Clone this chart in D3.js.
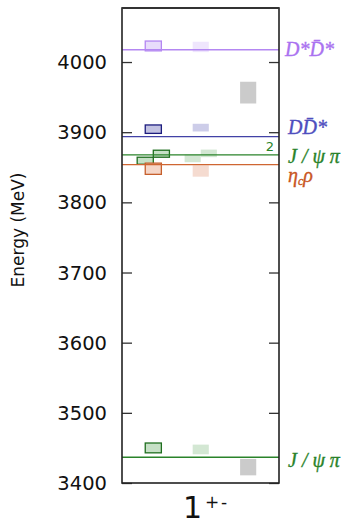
<!DOCTYPE html>
<html>
<head>
<meta charset="utf-8">
<script src="https://cdn.jsdelivr.net/npm/d3@7"></script>
<style>
  html, body { margin: 0; padding: 0; background: #fff; }
  svg { display: block; }
</style>
</head>
<body>
<div id="chart"></div>
<script>
// Thresholds (MeV)
const thresholdNames = ['DsDs', 'DDs', 'JpsiPi2', 'etacRho', 'JpsiPi'];
const thresholdE = [4017.6, 3893.7, 3867.6, 3853.7, 3436.6];

// Levels: x = column (0, 1, 2) with small shift for near-degenerate pairs
const levelX = [0, 0, -0.17, 0.17, 0, 0, 1, 1, 0.83, 1.17, 1, 1, 2, 2];
const levelE = [4022.9, 3904.3, 3859.3, 3869.3, 3847.9, 3450.0,
                4021.5, 3906.5, 3862.6, 3869.8, 3844.7, 3447.8,
                3956.4, 3422.6];
const levelErr = [7.0, 6.0, 5.0, 5.0, 8.0, 7.0,
                  7.4, 5.5, 5.4, 5.4, 8.1, 6.9,
                  15.5, 11.7];
const levelChan = ['DsDs', 'DDs', 'JpsiPi', 'JpsiPi', 'etacRho', 'JpsiPi',
                   'DsDs', 'DDs', 'JpsiPi', 'JpsiPi', 'etacRho', 'JpsiPi',
                   'none', 'none'];

const yTicks = [3400, 3500, 3600, 3700, 3800, 3900, 4000];

// styles
const lineColor = { DsDs: '#b487f2', DDs: '#4242a6', JpsiPi2: '#2a832a', etacRho: '#cf6632', JpsiPi: '#2a832a' };
const col0Fill = { DsDs: '#e8dcfb', DDs: '#c2c2e2', JpsiPi: '#c6e0c6', etacRho: '#f5d6c8', none: '#cbcbcb' };
const col0Stroke = { DsDs: '#b487f2', DDs: '#1c1c7e', JpsiPi: '#1f6e1f', etacRho: '#c65f2c', none: 'none' };
const col1Fill = { DsDs: '#efe6fd', DDs: '#cdcde9', JpsiPi: '#d3e7d3', etacRho: '#f5dbd0', none: '#cbcbcb' };
const labelColor = { DsDs: '#aa72f0', DDs: '#4e4ebe', JpsiPi2: '#2a832a', etacRho: '#c9561f', JpsiPi: '#2a832a' };
const labelDy = [0, -9, 1, 11, 3];

const W = 347, H = 519;
const M = { left: 122, right: 279, top: 8, bottom: 483 };

const svg = d3.select('#chart').append('svg')
  .attr('width', W).attr('height', H);

const x = d3.scaleLinear().domain([-0.66, 2.65]).range([M.left, M.right]);
const y = d3.scaleLinear().domain([3400, 4077]).range([M.bottom, M.top]);

const boxW = 0.34;

// Level boxes
svg.append('g').selectAll('rect')
  .data(levelE.map((e, i) => ({ e, x: levelX[i], err: levelErr[i], ch: levelChan[i] })))
  .join('rect')
  .attr('x', d => x(d.x - boxW / 2))
  .attr('width', d => x(boxW) - x(0))
  .attr('y', d => y(d.e + d.err))
  .attr('height', d => y(d.e - d.err) - y(d.e + d.err))
  .attr('fill', d => Math.round(d.x) === 0 ? col0Fill[d.ch] : col1Fill[d.ch])
  .attr('stroke', d => Math.round(d.x) === 0 ? col0Stroke[d.ch] : 'none')
  .attr('stroke-width', 1.3);

// Threshold lines
svg.append('g').selectAll('line')
  .data(thresholdE.map((e, i) => ({ e, name: thresholdNames[i] })))
  .join('line')
  .attr('x1', M.left).attr('x2', M.right)
  .attr('y1', d => y(d.e)).attr('y2', d => y(d.e))
  .attr('stroke', d => lineColor[d.name])
  .attr('stroke-width', 1.4);

// multiplicity marker
svg.append('text')
  .attr('x', M.right - 5).attr('y', y(thresholdE[2]) - 4)
  .attr('text-anchor', 'end')
  .attr('font-family', 'DejaVu Sans, sans-serif')
  .attr('font-size', 13)
  .attr('fill', lineColor.JpsiPi2)
  .text('2');

// Axes (ticks inward, both sides)
const yAxisL = d3.axisRight(y).tickValues(yTicks).tickSize(10).tickFormat('');
const yAxisR = d3.axisLeft(y).tickValues(yTicks).tickSize(10).tickFormat('');
svg.append('g').attr('transform', `translate(${M.left},0)`).call(yAxisL)
  .call(g => g.select('.domain').remove())
  .call(g => g.selectAll('line').attr('stroke', '#333').attr('stroke-width', 1.3));
svg.append('g').attr('transform', `translate(${M.right},0)`).call(yAxisR)
  .call(g => g.select('.domain').remove())
  .call(g => g.selectAll('line').attr('stroke', '#333').attr('stroke-width', 1.3));

// tick labels
svg.append('g').selectAll('text')
  .data(yTicks)
  .join('text')
  .attr('x', M.left - 15)
  .attr('y', d => y(d))
  .attr('dy', '0.36em')
  .attr('text-anchor', 'end')
  .attr('font-family', 'DejaVu Sans, sans-serif')
  .attr('font-size', 19.5)
  .attr('fill', '#111')
  .text(d => d);

// frame
svg.append('rect')
  .attr('x', M.left).attr('y', M.top)
  .attr('width', M.right - M.left).attr('height', M.bottom - M.top)
  .attr('fill', 'none').attr('stroke', '#222').attr('stroke-width', 1.6);
svg.append('line')
  .attr('x1', M.left).attr('x2', M.right).attr('y1', M.top).attr('y2', M.top)
  .attr('stroke', '#333').attr('stroke-width', 2.2);

// y label
svg.append('text')
  .attr('transform', `translate(18,230) rotate(-90)`)
  .attr('dy', '0.35em')
  .attr('text-anchor', 'middle')
  .attr('font-family', 'DejaVu Sans, sans-serif')
  .attr('font-size', 17)
  .attr('fill', '#111')
  .text('Energy (MeV)');

// x label 1^{+-}
const xlab = svg.append('g')
  .attr('font-family', 'DejaVu Sans, sans-serif')
  .attr('fill', '#111');
xlab.append('text').attr('x', 183).attr('y', 518).attr('font-size', 30).text('1');
xlab.append('text').attr('x', 205).attr('y', 508).attr('font-size', 17).text('+');
xlab.append('text').attr('x', 221).attr('y', 508).attr('font-size', 17).text('-');

// threshold labels
const labelG = svg.append('g')
  .attr('font-family', 'Liberation Serif, Times New Roman, serif')
  .attr('font-style', 'italic')
  .attr('font-size', 20);

function label(i, build, dx) {
  const t = labelG.append('text')
    .attr('x', M.right + (dx || 9))
    .attr('y', y(thresholdE[i]) + labelDy[i])
    .attr('dy', '0.33em')
    .attr('fill', labelColor[thresholdNames[i]])
    .attr('stroke', labelColor[thresholdNames[i]])
    .attr('stroke-width', 0.35);
  build(t);
}

label(0, t => {
  t.append('tspan').text('D*');
  t.append('tspan').text('D\u0304');
  t.append('tspan').text('*');
}, 6);
label(1, t => {
  t.append('tspan').text('D');
  t.append('tspan').text('D\u0304');
  t.append('tspan').text('*');
}, 9);
label(2, t => {
  t.text('J / \u03C8 \u03C0');
});
label(3, t => {
  t.append('tspan').text('\u03B7');
  t.append('tspan').attr('font-size', 12).attr('dy', 3).text('c');
  t.append('tspan').attr('dy', -3).text('\u03C1');
});
label(4, t => {
  t.text('J / \u03C8 \u03C0');
});
</script>
</body>
</html>
